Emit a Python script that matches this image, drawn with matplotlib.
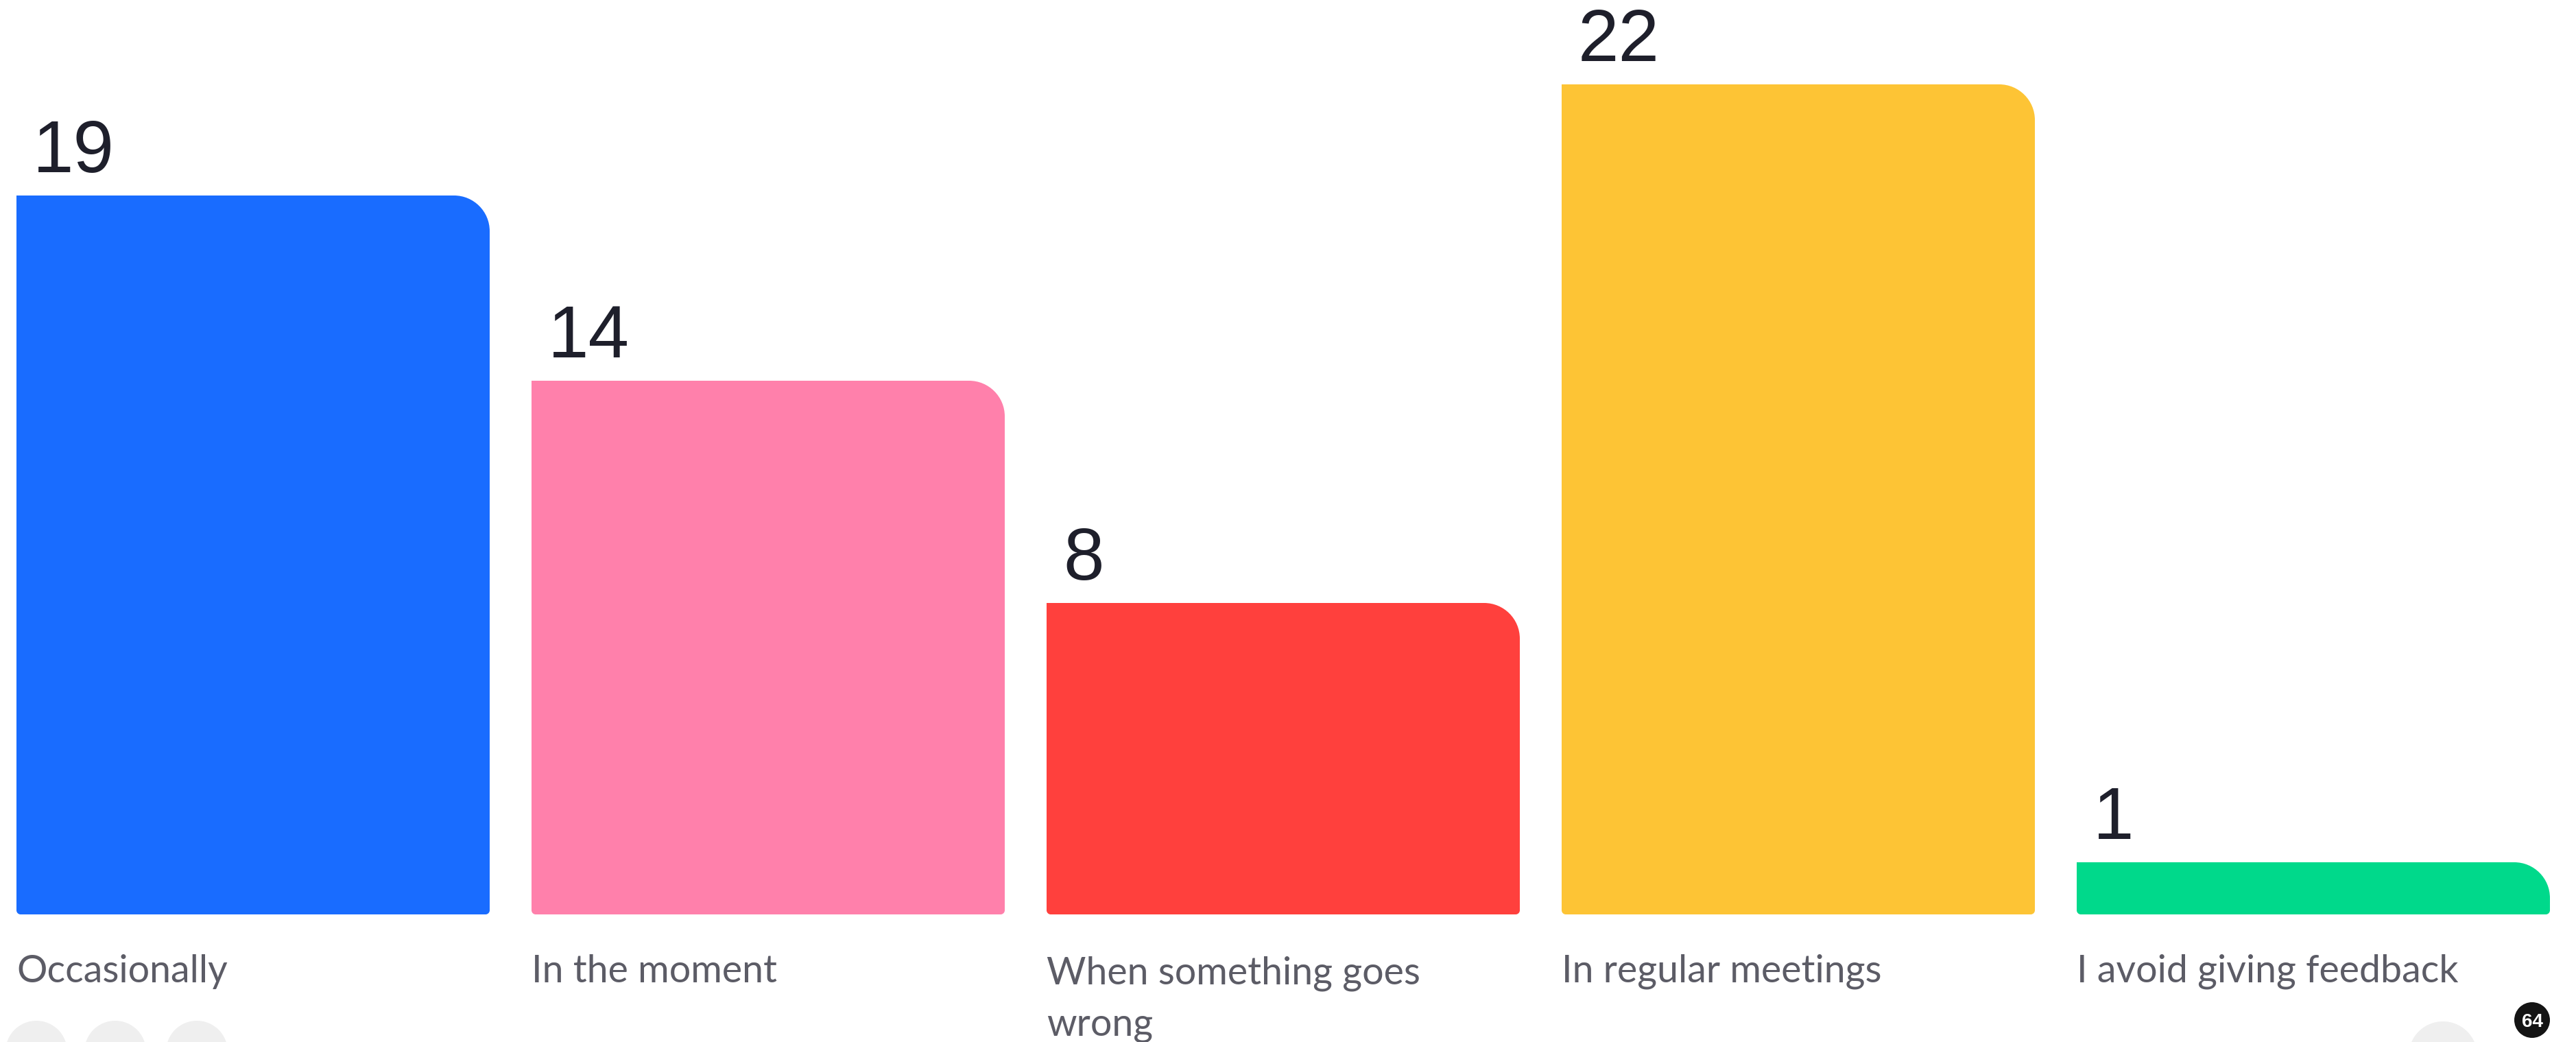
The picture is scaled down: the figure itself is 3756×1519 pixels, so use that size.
import textwrap
import matplotlib
matplotlib.use("Agg")
import matplotlib.pyplot as plt
from matplotlib.path import Path
from matplotlib.patches import PathPatch, Circle

categories = ["Occasionally", "In the moment", "When something goes wrong",
              "In regular meetings", "I avoid giving feedback"]
values = [19, 14, 8, 22, 1]
colors = ["#196cff", "#ff80ab", "#ff403d", "#fdc435", "#00d98b"]
total_votes = 64

W, H, DPI = 3756, 1519, 100
fig = plt.figure(figsize=(W / DPI, H / DPI), dpi=DPI)
fig.patch.set_facecolor("white")
ax = fig.add_axes([0, 0, 1, 1])

# pixel layout: bar spacing 751px, bar width 690px, 54px per vote
step_px, unit_px = 751.0, 54.0
x0_px, y0_px = 369.0, 208.0   # centre of first bar, value-zero line (from bottom)
base = 22.0 / unit_px          # bars start a little below zero
ax.set_xlim(-x0_px / step_px, (W - x0_px) / step_px)
ax.set_ylim(-y0_px / unit_px, (H - y0_px) / unit_px)
ax.axis("off")

width = 690.0 / step_px
rx_big, ry_big = 52.0 / step_px, 52.0 / unit_px
rx_s, ry_s = 6.0 / step_px, 6.0 / unit_px
K = 0.5523
line_px = 77


def bar_path(xl, xr, yb, yt):
    ry = min(ry_big, (yt - yb) - ry_s)
    v = [(xl + rx_s, yb), (xr - rx_s, yb),
         (xr - rx_s + K * rx_s, yb), (xr, yb + ry_s - K * ry_s), (xr, yb + ry_s),
         (xr, yt - ry),
         (xr, yt - ry + K * ry), (xr - rx_big + K * rx_big, yt), (xr - rx_big, yt),
         (xl, yt),
         (xl, yb + ry_s),
         (xl, yb + ry_s - K * ry_s), (xl + rx_s - K * rx_s, yb), (xl + rx_s, yb),
         (xl + rx_s, yb)]
    c = [Path.MOVETO, Path.LINETO,
         Path.CURVE4, Path.CURVE4, Path.CURVE4,
         Path.LINETO,
         Path.CURVE4, Path.CURVE4, Path.CURVE4,
         Path.LINETO, Path.LINETO,
         Path.CURVE4, Path.CURVE4, Path.CURVE4,
         Path.CLOSEPOLY]
    return Path(v, c)


for i, (cat, val, col) in enumerate(zip(categories, values, colors)):
    xl = i - width / 2
    xr = i + width / 2
    ax.add_patch(PathPatch(bar_path(xl, xr, -base, val), facecolor=col,
                           edgecolor="none"))
    ax.annotate(str(val), xy=(xl, val), xytext=(24, 34),
                textcoords="offset pixels", ha="left", va="baseline",
                fontsize=77, color="#1e1f2b",
                family=["Liberation Sans Narrow", "Liberation Sans"])
    lbl = textwrap.fill(cat, 24)
    n = lbl.count("\n")
    ax.annotate(lbl, xy=(xl, -base), xytext=(0, -99 - n * line_px),
                textcoords="offset pixels", ha="left", va="baseline",
                fontsize=40, color="#5c5c66", family="Lato",
                linespacing=1.55)

# faint ui circles along the bottom edge
for cx, cy, r in [(53, -14, 45), (168, -14, 45), (287, -14, 45), (3562, -20, 50)]:
    fig.patches.append(Circle((cx / DPI, cy / DPI), r / DPI, facecolor="#efefef",
                              edgecolor="none", transform=fig.dpi_scale_trans))

# vote count badge
fig.patches.append(Circle((3692 / DPI, (H - 1487) / DPI), 26 / DPI,
                          facecolor="#141414", edgecolor="none",
                          transform=fig.dpi_scale_trans))
fig.text(3692 / W, 1 - 1487 / H, str(total_votes), ha="center", va="center_baseline",
         fontsize=20, fontweight="bold", color="white", family="Liberation Sans")

fig.savefig("out.png", dpi=DPI, facecolor="white")
